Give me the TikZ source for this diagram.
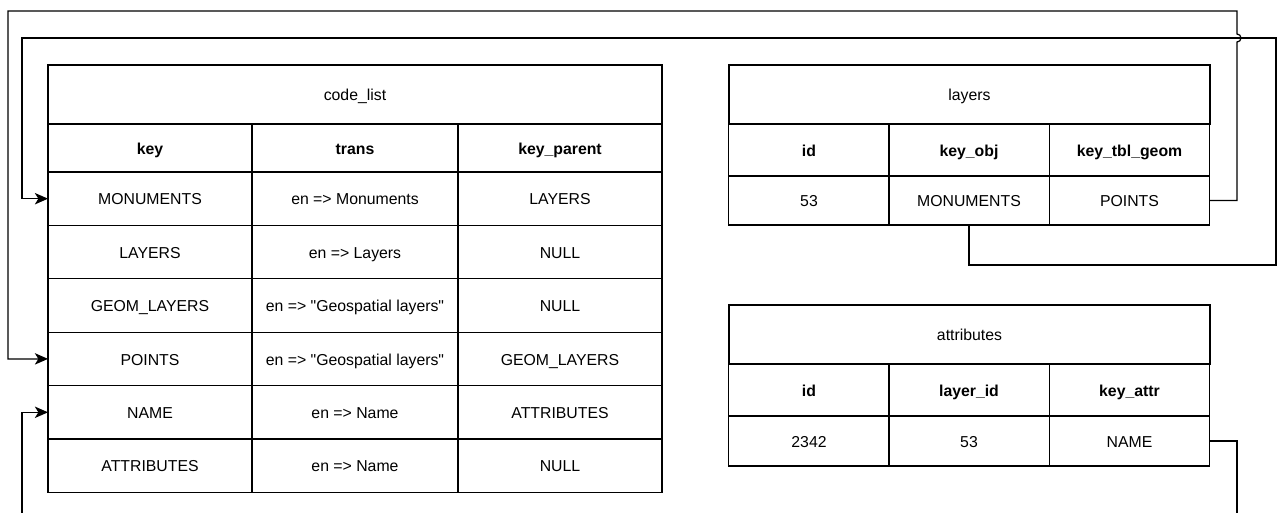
\documentclass[tikz,border=0pt]{standalone}
\usepackage{fontspec}
\setmainfont{Liberation Sans}
\usetikzlibrary{arrows.meta}

\begin{document}
\begin{tikzpicture}[x=0.02cm, y=-0.02cm,
    cell/.style={draw, line width=0.7pt, inner sep=0pt, outer sep=0pt,
      text height=8.6pt, text depth=1.6pt, font=\fontsize{9}{11}\selectfont},
    head/.style={cell, font=\fontsize{9}{11}\selectfont\bfseries},
    link/.style={draw, line width=0.7pt, -{Stealth[length=7.5pt, width=6.5pt, inset=2pt]}}]

        \useasboundingbox (0,0) rectangle (1279,513);
        \clip (0,0) rectangle (1279,513);

        % code_list
        \begin{scope}[every node/.style={minimum height=1.07cm}]
          \node[cell, minimum width=12.28cm, minimum height=1.18cm] (cl-t) at (355,94.5) {code\_list};
          \node[head, minimum width=4.08cm, minimum height=0.96cm] (cl-h1) at (150,148) {key};
          \node[head, minimum width=4.12cm, minimum height=0.96cm] (cl-h2) at (355,148) {trans};
          \node[head, minimum width=4.08cm, minimum height=0.96cm] (cl-h3) at (560,148) {key\_parent};

          \node[cell, minimum width=4.08cm] (cl-r1c1) at (150,198.7) {MONUMENTS};
          \node[cell, minimum width=4.12cm] (cl-r1c2) at (355,198.7) {en => Monuments};
          \node[cell, minimum width=4.08cm] (cl-r1c3) at (560,198.7) {LAYERS};

          \node[cell, minimum width=4.08cm] (cl-r2c1) at (150,252.1) {LAYERS};
          \node[cell, minimum width=4.12cm] (cl-r2c2) at (355,252.1) {en => Layers};
          \node[cell, minimum width=4.08cm] (cl-r2c3) at (560,252.1) {NULL};

          \node[cell, minimum width=4.08cm] (cl-r3c1) at (150,305.5) {GEOM\_LAYERS};
          \node[cell, minimum width=4.12cm] (cl-r3c2) at (355,305.5) {en => \textquotedbl Geospatial layers\textquotedbl};
          \node[cell, minimum width=4.08cm] (cl-r3c3) at (560,305.5) {NULL};

          \node[cell, minimum width=4.08cm] (cl-r4c1) at (150,358.9) {POINTS};
          \node[cell, minimum width=4.12cm] (cl-r4c2) at (355,358.9) {en => \textquotedbl Geospatial layers\textquotedbl};
          \node[cell, minimum width=4.08cm] (cl-r4c3) at (560,358.9) {GEOM\_LAYERS};

          \node[cell, minimum width=4.08cm] (cl-r5c1) at (150,412.3) {NAME};
          \node[cell, minimum width=4.12cm] (cl-r5c2) at (355,412.3) {en => Name};
          \node[cell, minimum width=4.08cm] (cl-r5c3) at (560,412.3) {ATTRIBUTES};

          \node[cell, minimum width=4.08cm] (cl-r6c1) at (150,465.7) {ATTRIBUTES};
          \node[cell, minimum width=4.12cm] (cl-r6c2) at (355,465.7) {en => Name};
          \node[cell, minimum width=4.08cm] (cl-r6c3) at (560,465.7) {NULL};
        \end{scope}

        % layers
        \begin{scope}[every node/.style={minimum width=3.21cm}]
          \node[cell, minimum width=9.62cm, minimum height=1.18cm] (ly-t) at (969.5,94.5) {layers};
          \node[head, minimum height=1.04cm] (ly-h1) at (809,150) {id};
          \node[head, minimum height=1.04cm] (ly-h2) at (969,150) {key\_obj};
          \node[head, minimum height=1.04cm] (ly-h3) at (1129.5,150) {key\_tbl\_geom};

          \node[cell, minimum height=0.98cm] (ly-r1c1) at (809,200.5) {53};
          \node[cell, minimum height=0.98cm] (ly-r1c2) at (969,200.5) {MONUMENTS};
          \node[cell, minimum height=0.98cm] (ly-r1c3) at (1129.5,200.5) {POINTS};
        \end{scope}

        % attributes
        \begin{scope}[every node/.style={minimum width=3.21cm}]
          \node[cell, minimum width=9.62cm, minimum height=1.18cm] (at-t) at (969.5,334.5) {attributes};
          \node[head, minimum height=1.04cm] (at-h1) at (809,390) {id};
          \node[head, minimum height=1.04cm] (at-h2) at (969,390) {layer\_id};
          \node[head, minimum height=1.04cm] (at-h3) at (1129.5,390) {key\_attr};

          \node[cell, minimum height=1cm] (at-r1c1) at (809,441) {2342};
          \node[cell, minimum height=1cm] (at-r1c2) at (969,441) {53};
          \node[cell, minimum height=1cm] (at-r1c3) at (1129.5,441) {NAME};
        \end{scope}

        % references back into code_list
        \path[link] (ly-r1c2.south) |- (1276,265) |- (22,38) |- (cl-r1c1.west);
        \path[link] (ly-r1c3.east) -| (1237,42)
          arc[start angle=-90, end angle=90, radius=0.08cm]
          |- (8,11) |- (cl-r4c1.west);
        \path[link] (at-r1c3.east) -| (1237,530) -| (22,460) |- (cl-r5c1.west);

      \end{tikzpicture}
\end{document}
